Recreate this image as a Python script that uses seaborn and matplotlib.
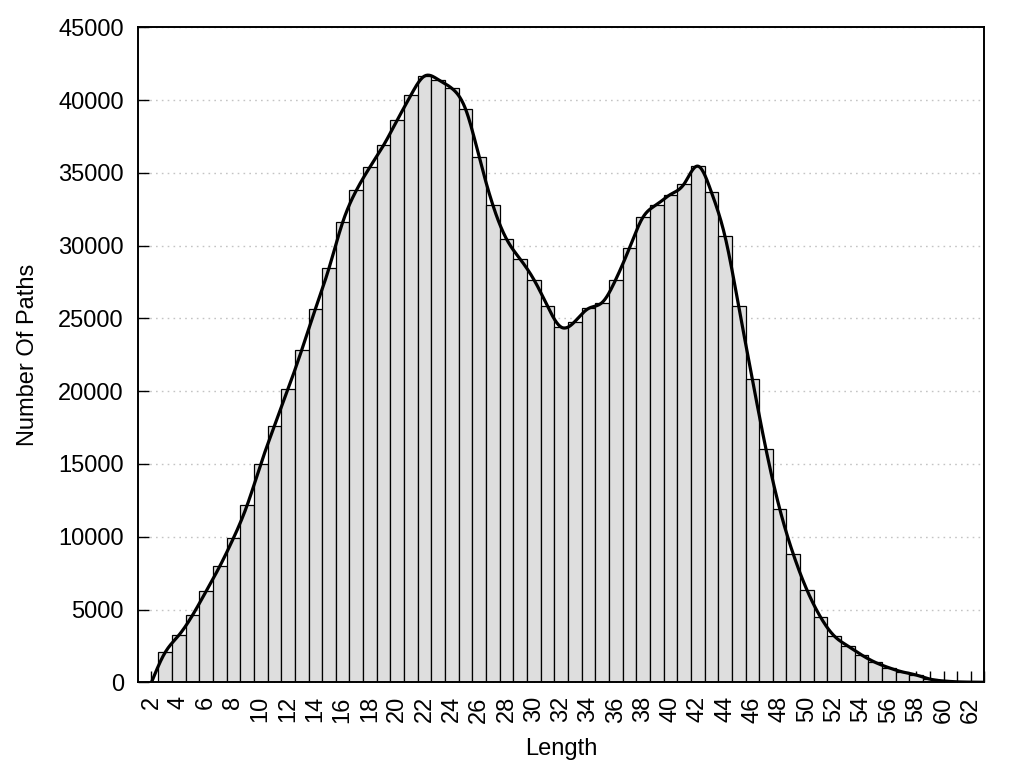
import numpy as np
import seaborn as sns
import matplotlib
matplotlib.use("Agg")
import matplotlib.pyplot as plt

# path length -> number of paths
lengths = list(range(2, 64))
counts = [
    0, 2050, 3230, 4600, 6250, 7970, 9900, 12150, 14980, 17600,
    20140, 22820, 25640, 28450, 31600, 33790, 35400, 36900, 38630, 40340,
    41650, 41400, 40800, 39380, 36080, 32780, 30450, 29070, 27670, 25840,
    24400, 24780, 25680, 26090, 27670, 29830, 31960, 32820, 33510, 34230,
    35460, 33680, 30630, 25840, 20820, 16010, 11930, 8800, 6340, 4470,
    3180, 2490, 1880, 1370, 1000, 710, 500, 220, 90, 30,
    10, 0,
]
y_ticks = list(range(0, 45001, 5000))
x_label = "Length"
y_label = "Number Of Paths"


def natural_spline(x, y, n=1000):
    """Natural cubic spline through the bar tops (like gnuplot csplines)."""
    x = np.asarray(x, float)
    y = np.asarray(y, float)
    m = len(x)
    h = np.diff(x)
    A = np.zeros((m, m))
    rhs = np.zeros(m)
    A[0, 0] = A[-1, -1] = 1
    for i in range(1, m - 1):
        A[i, i - 1] = h[i - 1]
        A[i, i] = 2 * (h[i - 1] + h[i])
        A[i, i + 1] = h[i]
        rhs[i] = 6 * ((y[i + 1] - y[i]) / h[i] - (y[i] - y[i - 1]) / h[i - 1])
    M = np.linalg.solve(A, rhs)
    xs = np.linspace(x[0], x[-1], n)
    k = np.clip(np.searchsorted(x, xs) - 1, 0, m - 2)
    hk = x[k + 1] - x[k]
    a = (x[k + 1] - xs) / hk
    b = (xs - x[k]) / hk
    ys = a * y[k] + b * y[k + 1] + ((a ** 3 - a) * M[k] + (b ** 3 - b) * M[k + 1]) * hk ** 2 / 6
    return xs, ys


sns.set_style("white")
plt.rcParams["font.family"] = ["Liberation Sans", "DejaVu Sans"]
plt.rcParams["font.size"] = 17
for key in ("text.color", "axes.labelcolor", "xtick.color", "ytick.color"):
    plt.rcParams[key] = "black"

fig = plt.figure(figsize=(10.24, 7.68), dpi=100)
ax = fig.add_axes([0.1346, 0.1116, 0.8268, 0.8529])

sns.histplot(x=lengths, weights=counts, discrete=True, color="#dedede",
             edgecolor="black", linewidth=0.9, alpha=1, ax=ax)

xs, ys = natural_spline(lengths, counts)
sns.lineplot(x=xs, y=ys, color="black", linewidth=2.3, ax=ax, zorder=3)

ax.set_xlim(1, 63)
ax.set_ylim(0, 45000)
ax.set_yticks(y_ticks)
ax.set_yticklabels([str(v) for v in y_ticks])
ax.set_xticks(lengths)
ax.set_xticklabels([str(v) if v % 2 == 0 else "" for v in lengths], rotation=90)

ax.set_axisbelow(True)
ax.yaxis.grid(True, color="#c4c4c4", linestyle=(0, (1.2, 3)), linewidth=1.0)
ax.xaxis.grid(False)

ax.tick_params(axis="both", direction="in", length=8, width=1.0, color="black",
               labelcolor="black", labelsize=17, pad=10)
ax.tick_params(top=False, right=False, bottom=True, left=True)
for sp in ax.spines.values():
    sp.set_color("black")
    sp.set_linewidth(1.4)
    sp.set_zorder(4)

ax.set_xlabel(x_label, fontsize=17, labelpad=11, color="black")
ax.set_ylabel(y_label, fontsize=17, labelpad=14, color="black")

fig.savefig("out.png", dpi=100)
